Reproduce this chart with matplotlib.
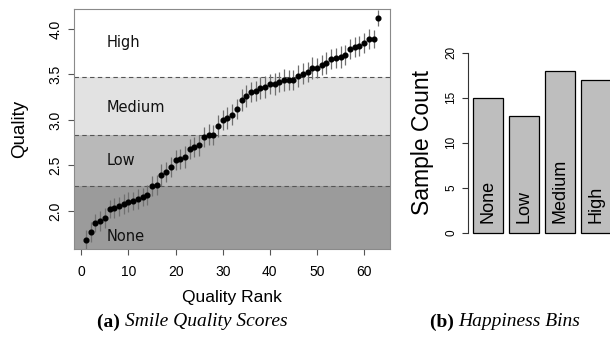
import matplotlib
matplotlib.use("Agg")
import matplotlib.pyplot as plt
import numpy as np

plt.rcParams['font.family'] = ['Liberation Sans', 'DejaVu Sans']

# quality scores, sorted
quality = [1.68, 1.77, 1.87, 1.89, 1.92, 2.02, 2.03, 2.05, 2.08, 2.10,
           2.11, 2.13, 2.15, 2.18, 2.28, 2.29, 2.40, 2.43, 2.48, 2.56,
           2.57, 2.59, 2.68, 2.70, 2.72, 2.81, 2.84, 2.84, 2.93, 3.00,
           3.02, 3.06, 3.12, 3.22, 3.26, 3.31, 3.32, 3.35, 3.36, 3.40,
           3.40, 3.42, 3.44, 3.44, 3.44, 3.48, 3.51, 3.53, 3.57, 3.57,
           3.60, 3.63, 3.67, 3.68, 3.69, 3.71, 3.78, 3.80, 3.81, 3.85,
           3.89, 3.89, 4.12]
quality_err = [0.11, 0.11, 0.10, 0.11, 0.11, 0.10, 0.11, 0.10, 0.11, 0.11,
               0.10, 0.11, 0.10, 0.11, 0.11, 0.11, 0.12, 0.11, 0.11, 0.11,
               0.11, 0.12, 0.11, 0.11, 0.12, 0.11, 0.12, 0.11, 0.12, 0.11,
               0.12, 0.12, 0.11, 0.12, 0.12, 0.11, 0.11, 0.12, 0.12, 0.11,
               0.12, 0.11, 0.12, 0.11, 0.11, 0.12, 0.12, 0.11, 0.12, 0.11,
               0.11, 0.12, 0.11, 0.11, 0.12, 0.11, 0.11, 0.11, 0.11, 0.11,
               0.11, 0.10, 0.09]

# bin thresholds
cut_low = 2.27
cut_med = 2.835
cut_high = 3.475

bin_names = ['None', 'Low', 'Medium', 'High']
bin_counts = [15, 13, 18, 17]
band_colors = ['#9b9b9b', '#b9b9b9', '#e2e2e2', '#ffffff']

fig = plt.figure(figsize=(6.10, 3.41), dpi=100)

# ---- (a) quality scores
ax = fig.add_axes([0.1218, 0.2707, 0.5175, 0.702])
ylo, yhi = 1.586, 4.216
edges = [ylo, cut_low, cut_med, cut_high, yhi]
for i in range(4):
    ax.axhspan(edges[i], edges[i + 1], color=band_colors[i], lw=0, zorder=0)
for c in [cut_low, cut_med, cut_high]:
    ax.axhline(c, color='#555555', ls=(0, (4, 3)), lw=0.8, zorder=1)

rank = np.arange(1, len(quality) + 1)
ax.errorbar(rank, quality, yerr=quality_err, fmt='o', color='black', ms=3.4,
            ecolor='#707070', elinewidth=0.9, capsize=0, zorder=3)

label_y = [1.725, 2.553, 3.132, 3.846]
for name, ly in zip(bin_names, label_y):
    ax.text(5.3, ly, name, family='DejaVu Sans', fontsize=10.5,
            va='center', ha='left', color='#111111')

ax.set_xlim(-1.48, 65.48)
ax.set_ylim(ylo, yhi)
ax.set_xticks([0, 10, 20, 30, 40, 50, 60])
ax.set_yticks([2.0, 2.5, 3.0, 3.5, 4.0])
ax.set_yticklabels(['2.0', '2.5', '3.0', '3.5', '4.0'], rotation=90, va='center')
ax.tick_params(length=4.5, width=0.8, color='#555555', labelsize=10)
ax.tick_params(axis='x', pad=7)
ax.tick_params(axis='y', pad=4)
for s in ax.spines.values():
    s.set_color('#8a8a8a')
    s.set_linewidth(0.8)
ax.set_xlabel('Quality Rank', fontsize=12.5, labelpad=8)
ax.set_ylabel('Quality', fontsize=13.5, labelpad=15)

# ---- (b) bin counts
bx = fig.add_axes([0.7667, 0.2965, 0.2333, 0.5701])
left = [0.2, 1.4, 2.6, 3.8]
bx.bar(left, bin_counts, width=1.0, align='edge', color='#bebebe',
       edgecolor='black', linewidth=0.9)
for x0, name in zip(left, bin_names):
    bx.text(x0 + 0.5, 1.1, name, rotation=90, ha='center', va='bottom',
            fontsize=13, color='black')
bx.set_xlim(0.033, 4.777)
bx.set_ylim(-0.8, 20.8)
bx.set_yticks([0, 5, 10, 15, 20])
bx.set_yticklabels(['0', '5', '10', '15', '20'], rotation=90, va='center')
bx.set_xticks([])
for s in ['top', 'right', 'bottom']:
    bx.spines[s].set_visible(False)
bx.spines['left'].set_bounds(0, 20)
bx.spines['left'].set_color('#333333')
bx.tick_params(axis='y', length=4.5, width=0.8, color='#333333', labelsize=8.5, pad=3)
bx.set_ylabel('Sample Count', fontsize=16.5, labelpad=8)

# captions: bold tag + italic title, centred under each panel
cap_y = 1 - 322 / 341
captions = [(192.5, '(a)', 'Smile Quality Scores'),
            (505.0, '(b)', 'Happiness Bins')]
pairs = []
for cx, tag, title in captions:
    t1 = fig.text(0, cap_y, tag + ' ', family='Liberation Serif', weight='bold',
                  fontsize=14, ha='left', va='center')
    t2 = fig.text(0, cap_y, title, family='Liberation Serif', style='italic',
                  fontsize=14, ha='left', va='center')
    pairs.append((cx, t1, t2))

fig.canvas.draw()
r = fig.canvas.get_renderer()
for cx, t1, t2 in pairs:
    w1 = t1.get_window_extent(r).width
    w2 = t2.get_window_extent(r).width
    start = cx - (w1 + w2) / 2
    t1.set_x(start / 610)
    t2.set_x((start + w1) / 610)

fig.savefig('out.png', dpi=100)
